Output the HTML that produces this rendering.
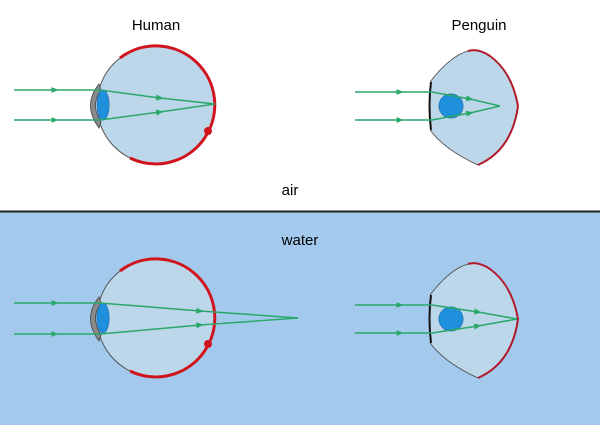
<!DOCTYPE html>
<html><head><style>
html,body{margin:0;padding:0;background:#fff;}
svg{display:block;}
text{font-family:"Liberation Sans",Arial,sans-serif;font-size:15px;fill:#000;}
</style></head><body>
<svg width="600" height="425" viewBox="0 0 600 425" xmlns="http://www.w3.org/2000/svg">
<defs>
<marker id="ar" viewBox="0 0 10 10" refX="5" refY="5" markerWidth="5" markerHeight="5" orient="auto"><path d="M0,1 L10,5 L0,9 z" fill="#2aa86a"/></marker>
<g id="heye">
  <circle cx="156" cy="105" r="59" fill="#bcd6ea"/>
  <path d="M120,58 A59,59 0 1 1 130,158" fill="none" stroke="#d0141e" stroke-width="3"/>
  <path d="M120,58 A59,59 0 0 0 99,90 M99,120 A59,59 0 0 0 130,158" fill="none" stroke="#555" stroke-width="1"/>
  <circle cx="208" cy="131" r="4" fill="#d0141e"/>
  <path d="M99,84 Q82,105 99,128 L101,122 Q90,105 101,90 Z" fill="#8a8a8a" stroke="#444" stroke-width="0.8"/>
  <ellipse cx="103" cy="105" rx="6" ry="15" fill="#1e90dc" stroke="#2a7ab8" stroke-width="1"/>
</g>
<g id="peye">
  <path d="M430,82 Q450,56 468,51 Q478,48 490,56 Q512,72 518,106 Q512,150 478,165 Q445,150 430,130 Z" fill="#bcd6ea"/>
  <path d="M468,51 Q478,48 490,56 Q512,72 518,106 Q512,150 478,165" fill="none" stroke="#b01a2a" stroke-width="2"/>
  <path d="M430,82 Q450,56 468,51 M478,165 Q445,150 430,130" fill="none" stroke="#444" stroke-width="0.8"/>
  <path d="M431,82 Q428,105 431,130" fill="none" stroke="#111" stroke-width="2"/>
  <circle cx="451" cy="106" r="12" fill="#1e90dc" stroke="#2a7ab8" stroke-width="1"/>
</g>
</defs>
<rect x="0" y="212" width="600" height="213" fill="#a3caed"/>
<line x1="0" y1="211.5" x2="600" y2="211.5" stroke="#222" stroke-width="2"/>
<text x="156" y="30" text-anchor="middle">Human</text>
<text x="479" y="30" text-anchor="middle">Penguin</text>
<text x="290" y="195" text-anchor="middle">air</text>
<text x="300" y="245" text-anchor="middle">water</text>

<use href="#heye"/>
<g stroke="#2aa86a" stroke-width="1.5" fill="none">
  <polyline points="14,90 55,90" marker-end="url(#ar)"/><line x1="55" y1="90" x2="100" y2="90"/>
  <polyline points="14,120 55,120" marker-end="url(#ar)"/><line x1="55" y1="120" x2="100" y2="120"/>
  <polyline points="100,90 160,98" marker-end="url(#ar)"/><line x1="160" y1="98" x2="215" y2="104"/>
  <polyline points="100,120 160,112" marker-end="url(#ar)"/><line x1="160" y1="112" x2="215" y2="104"/>
</g>

<use href="#peye"/>
<g stroke="#2aa86a" stroke-width="1.5" fill="none">
  <polyline points="355,92 400,92" marker-end="url(#ar)"/><line x1="400" y1="92" x2="432" y2="92"/>
  <polyline points="355,120 400,120" marker-end="url(#ar)"/><line x1="400" y1="120" x2="432" y2="120"/>
  <polyline points="432,92 470,99" marker-end="url(#ar)"/><line x1="470" y1="99" x2="500" y2="106"/>
  <polyline points="432,120 470,113" marker-end="url(#ar)"/><line x1="470" y1="113" x2="500" y2="106"/>
</g>

<use href="#heye" transform="translate(0,213)"/>
<g stroke="#2aa86a" stroke-width="1.5" fill="none">
  <polyline points="14,303 55,303" marker-end="url(#ar)"/><line x1="55" y1="303" x2="100" y2="303"/>
  <polyline points="14,334 55,334" marker-end="url(#ar)"/><line x1="55" y1="334" x2="100" y2="334"/>
  <polyline points="100,303 200,311" marker-end="url(#ar)"/><line x1="200" y1="311" x2="298" y2="318"/>
  <polyline points="100,334 200,325" marker-end="url(#ar)"/><line x1="200" y1="325" x2="298" y2="318"/>
</g>

<use href="#peye" transform="translate(0,213)"/>
<g stroke="#2aa86a" stroke-width="1.5" fill="none">
  <polyline points="355,305 400,305" marker-end="url(#ar)"/><line x1="400" y1="305" x2="432" y2="305"/>
  <polyline points="355,333 400,333" marker-end="url(#ar)"/><line x1="400" y1="333" x2="432" y2="333"/>
  <polyline points="432,305 478,312" marker-end="url(#ar)"/><line x1="478" y1="312" x2="517" y2="319"/>
  <polyline points="432,333 478,326" marker-end="url(#ar)"/><line x1="478" y1="326" x2="517" y2="319"/>
</g>
</svg>
</body></html>
